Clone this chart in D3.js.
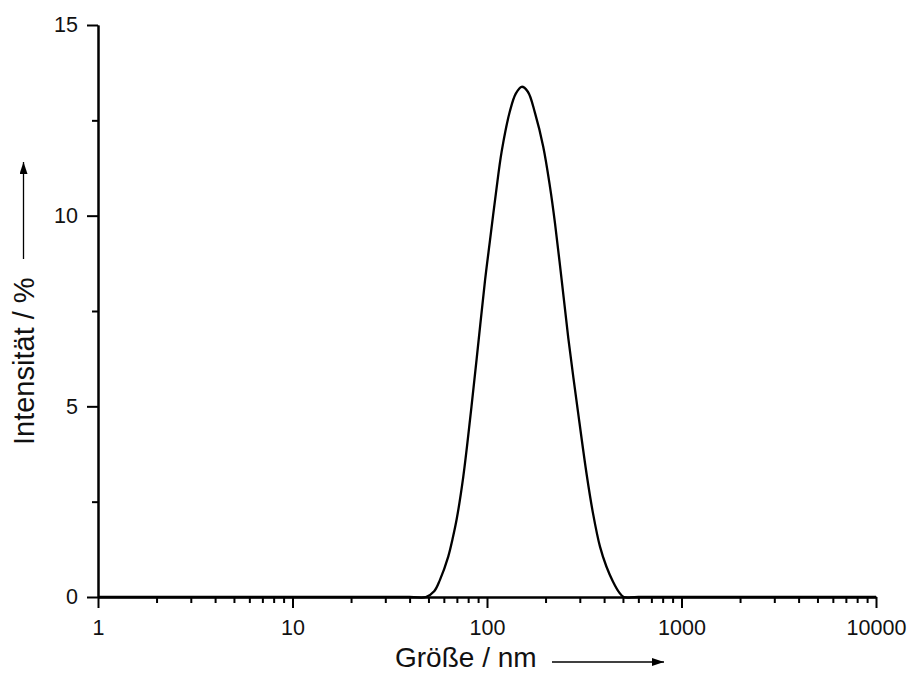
<!DOCTYPE html>
<html>
<head>
<meta charset="utf-8">
<script src="https://cdn.jsdelivr.net/npm/d3@7"></script>
<style>
  body { margin: 0; background: #fff; }
  svg { display: block; font-family: "Liberation Sans", Arial, sans-serif; }
  .axis path, .axis line { stroke: #000; stroke-width: 2; }
  .axis text { font-size: 21.5px; fill: #111; }
</style>
</head>
<body>
<div id="chart"></div>
<script>
// size distribution (intensity)
const sizes = [1, 40, 48.5, 53.5, 57.3, 63.2, 66.5, 69.9, 75.5, 81.8, 88.5, 97.7, 103.6, 111.2, 119.1, 131.3,
  140.6, 150.7, 162.2, 176.6, 194.6, 210.9, 223.7, 242.1, 261.8, 293.8, 325.7, 350.6, 381, 411, 444.6,
  475, 505, 600, 10000];
const intensities = [0, 0, 0, 0.15, 0.45, 1.06, 1.52, 2.05, 3.15, 4.65, 6.25, 8.3, 9.35, 10.6, 11.7, 12.75,
  13.2, 13.38, 13.25, 12.69, 11.81, 10.75, 9.8, 8.31, 6.79, 4.85, 3.2, 2.2, 1.32, 0.8, 0.4,
  0.14, 0, 0, 0];

const xMajor = [1, 10, 100, 1000, 10000];
const xMinor = [2, 3, 4, 5, 6, 7, 8, 9];
const yMajor = [0, 5, 10, 15];
const yMinor = [2.5, 7.5, 12.5];
const xTitle = "Größe / nm";
const yTitle = "Intensität / %";

const width = 909, height = 673;
const m = { left: 98, right: 876, top: 25, bottom: 597 };

const svg = d3.select("#chart").append("svg")
  .attr("width", width)
  .attr("height", height);

const x = d3.scaleLog().domain([1, 10000]).range([m.left, m.right]);
const y = d3.scaleLinear().domain([0, 15]).range([m.bottom, m.top]);

// minor ticks first, majors on top
const minorX = [];
xMajor.slice(0, -1).forEach(d => xMinor.forEach(k => minorX.push(d * k)));

svg.append("g")
  .attr("class", "axis")
  .attr("transform", `translate(0,${m.bottom})`)
  .call(d3.axisBottom(x).tickValues(minorX).tickSize(6).tickSizeOuter(0).tickFormat(""));

svg.append("g")
  .attr("class", "axis")
  .attr("transform", `translate(0,${m.bottom})`)
  .call(d3.axisBottom(x).tickValues(xMajor).tickSize(11).tickSizeOuter(0)
    .tickPadding(12).tickFormat(d3.format("d")));

svg.append("g")
  .attr("class", "axis")
  .attr("transform", `translate(${m.left},0)`)
  .call(d3.axisLeft(y).tickValues(yMinor).tickSize(6).tickSizeOuter(0).tickFormat(""));

svg.append("g")
  .attr("class", "axis")
  .attr("transform", `translate(${m.left},0)`)
  .call(d3.axisLeft(y).tickValues(yMajor).tickSize(11).tickSizeOuter(0)
    .tickPadding(9).tickFormat(d3.format("d")));

// the curve
const data = sizes.map((s, i) => [s, intensities[i]]);
const line = d3.line()
  .x(d => x(d[0]))
  .y(d => Math.min(y(d[1]), m.bottom))
  .curve(d3.curveCatmullRom.alpha(0.5));

svg.append("path")
  .datum(data)
  .attr("d", line)
  .attr("fill", "none")
  .attr("stroke", "#000")
  .attr("stroke-width", 2.3)
  .attr("stroke-linejoin", "round");

// arrow marker
svg.append("defs").append("marker")
  .attr("id", "arrow")
  .attr("viewBox", "0 0 12 8")
  .attr("refX", 12).attr("refY", 4)
  .attr("markerWidth", 12).attr("markerHeight", 8)
  .attr("markerUnits", "userSpaceOnUse")
  .attr("orient", "auto")
  .append("path")
  .attr("d", "M0,0 L12,4 L0,8 Z")
  .attr("fill", "#000");

// axis titles
svg.append("text")
  .attr("x", 395).attr("y", 667)
  .attr("font-size", 28)
  .attr("fill", "#111")
  .text(xTitle);

svg.append("line")
  .attr("x1", 552).attr("y1", 662)
  .attr("x2", 664).attr("y2", 662)
  .attr("stroke", "#000").attr("stroke-width", 1.3)
  .attr("marker-end", "url(#arrow)");

svg.append("text")
  .attr("transform", "translate(34,445) rotate(-90)")
  .attr("font-size", 29)
  .attr("fill", "#111")
  .text(yTitle);

svg.append("line")
  .attr("x1", 23.5).attr("y1", 259)
  .attr("x2", 23.5).attr("y2", 162)
  .attr("stroke", "#000").attr("stroke-width", 1.3)
  .attr("marker-end", "url(#arrow)");
</script>
</body>
</html>
